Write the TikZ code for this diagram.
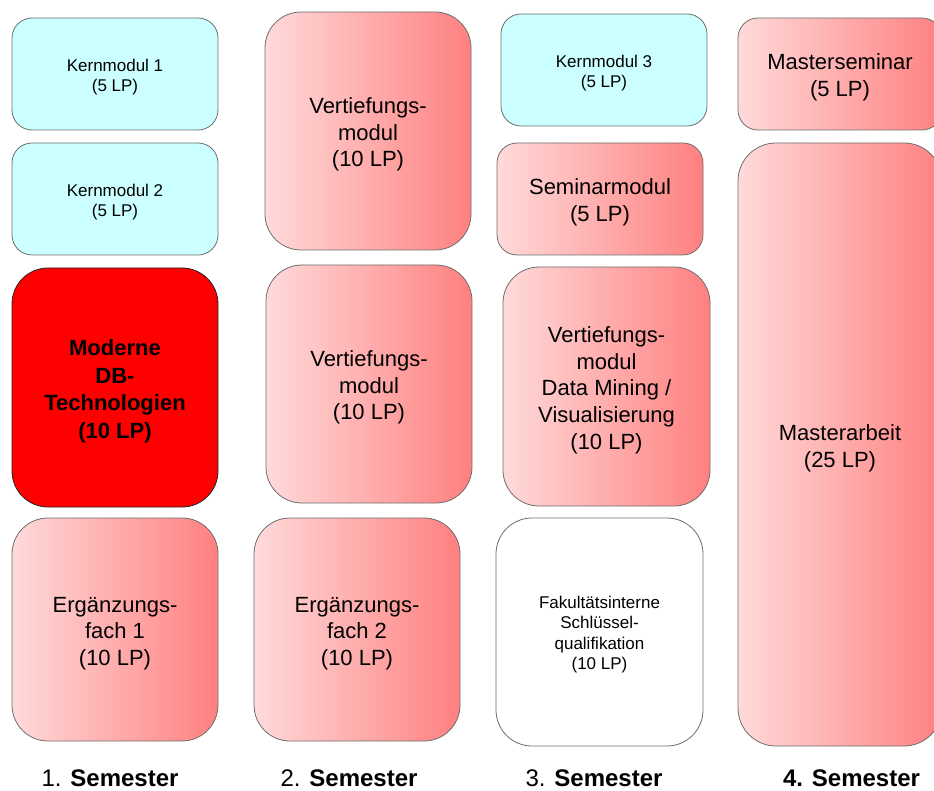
\documentclass[tikz,border=0pt]{standalone}
\usepackage{fontspec}
\setmainfont{Liberation Sans}
\definecolor{kernblau}{HTML}{CCFFFF}
\definecolor{vertlinks}{HTML}{FFDADA}
\definecolor{vertrechts}{HTML}{FF8080}
\definecolor{rahmen}{HTML}{6E6E6E}
\newcommand{\oben}{\rule{0pt}{1.05em}}

\begin{document}
\begin{tikzpicture}[x=1pt,y=-1pt,
    modul/.style={draw=rahmen,line width=0.8pt,rounded corners=36pt,align=center,inner sep=2pt,
        minimum width=206pt,font=\fontsize{22}{26.7}\selectfont},
    kern/.style={modul,rounded corners=20pt,fill=kernblau,minimum height=112pt,font=\fontsize{17}{20}\selectfont},
    vertiefung/.style={modul,left color=vertlinks,right color=vertrechts},
    pflicht/.style={modul,fill=red,draw=black!85,font=\bfseries\fontsize{22}{27.5}\selectfont},
    frei/.style={modul,fill=white,font=\fontsize{17}{20.5}\selectfont},
    semester/.style={anchor=base,inner sep=0pt,font=\fontsize{24}{28}\selectfont}]
    \useasboundingbox (0,0) rectangle (934,791);
    % 1. Semester
    \node[kern] (kern1) at (115,74) {\oben Kernmodul 1\\(5 LP)};
    \node[kern] (kern2) at (115,199) {\oben Kernmodul 2\\(5 LP)};
    \node[pflicht,minimum height=239pt] (mdbt) at (115,387.5) {\oben Moderne\\DB-\\Technologien\\(10 LP)};
    \node[vertiefung,minimum height=223pt] (erg1) at (115,629.5) {\oben Ergänzungs-\\fach 1\\(10 LP)};
    % 2. Semester
    \node[vertiefung,minimum height=238pt] (vert1) at (368,131) {\oben Vertiefungs-\\modul\\(10 LP)};
    \node[vertiefung,minimum height=238pt] (vert2) at (369,384) {\oben Vertiefungs-\\modul\\(10 LP)};
    \node[vertiefung,minimum height=223pt] (erg2) at (357,629.5) {\oben Ergänzungs-\\fach 2\\(10 LP)};
    % 3. Semester
    \node[kern] (kern3) at (604,70) {\oben Kernmodul 3\\(5 LP)};
    \node[vertiefung,rounded corners=20pt,minimum height=112pt] (seminar) at (600,199) {\oben Seminarmodul\\(5 LP)};
    \node[vertiefung,minimum width=207pt,minimum height=239pt] (vertdm) at (606.5,386.5)
        {\oben Vertiefungs-\\modul\\Data Mining /\\Visualisierung\\(10 LP)};
    \node[frei,minimum width=207pt,minimum height=228pt] (fak) at (599.5,632)
        {\oben Fakultätsinterne\\Schlüssel-\\qualifikation\\(10 LP)};
    % 4. Semester
    \node[vertiefung,rounded corners=20pt,minimum width=204pt,minimum height=112pt] (mseminar) at (840,74) {\oben Masterseminar\\(5 LP)};
    \node[vertiefung,rounded corners=38pt,minimum width=204pt,minimum height=603pt] (marbeit) at (840,444.5) {\oben Masterarbeit\\(25 LP)};

    \node[semester] (sem1) at (110,786) {1. \textbf{Semester}};
    \node[semester] (sem2) at (349,786) {2. \textbf{Semester}};
    \node[semester] (sem3) at (594,786) {3. \textbf{Semester}};
    \node[semester] (sem4) at (851.5,786) {\textbf{4. Semester}};

\end{tikzpicture}
\end{document}
